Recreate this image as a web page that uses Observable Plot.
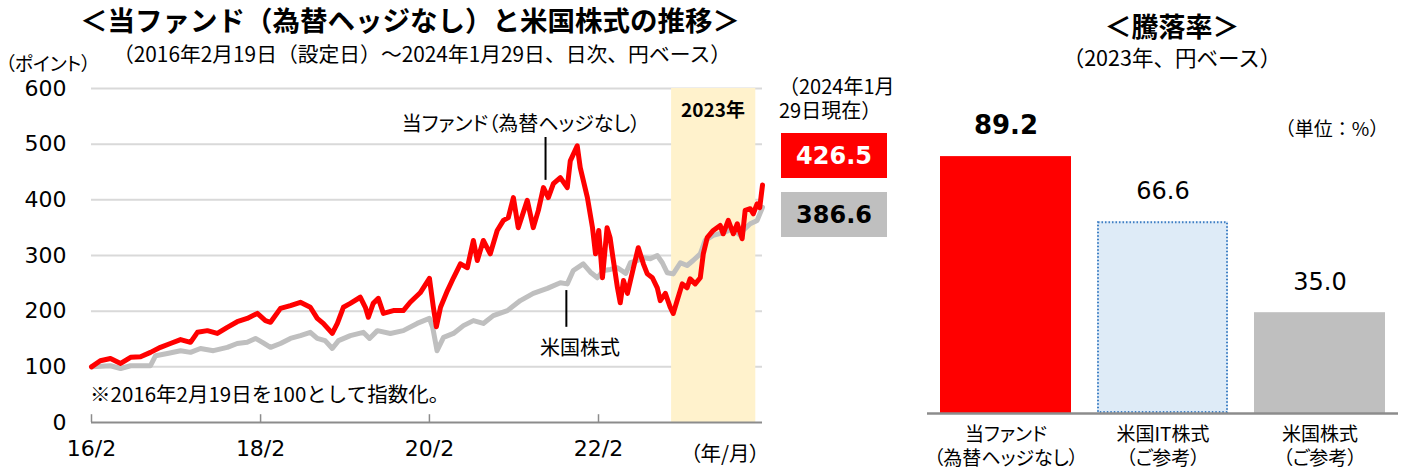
<!DOCTYPE html>
<html><head><meta charset="utf-8">
<script src="https://cdn.jsdelivr.net/npm/d3@7"></script>
<script src="https://cdn.jsdelivr.net/npm/@observablehq/plot@0.6"></script>
<style>
body{margin:0;background:#fff;}
#root{position:relative;width:1402px;height:470px;overflow:hidden;font-family:"Noto Sans CJK JP",sans-serif;color:#000;}
#left,#right{position:absolute;top:0;}
#left{left:0;} #right{left:900px;}
.t{position:absolute;white-space:pre;line-height:1;font-family:"Noto Sans CJK JP",sans-serif;}
.palt{font-feature-settings:"palt";}
.box{position:absolute;display:flex;align-items:center;justify-content:center;font-family:"DejaVu Sans",sans-serif;font-weight:bold;font-size:24px;}
svg text{font-feature-settings:"palt";}
</style></head><body>
<div id="root"><div id="left"></div><div id="right"></div></div>
<script>
// ---- Left chart data (index, 2016/2/19 = 100) ----
const fundDates = ["2016-02-19","2016-03-28","2016-05-11","2016-06-24","2016-08-06","2016-09-18","2016-10-31","2016-12-13","2017-01-25","2017-03-10","2017-04-22","2017-05-22","2017-07-04","2017-08-16","2017-09-28","2017-11-10","2017-12-23","2018-02-05","2018-03-12","2018-04-03","2018-05-16","2018-06-28","2018-08-10","2018-09-22","2018-10-22","2018-11-17","2018-12-26","2019-01-17","2019-02-12","2019-03-14","2019-04-26","2019-05-18","2019-05-31","2019-06-21","2019-07-13","2019-08-04","2019-09-16","2019-10-29","2019-11-28","2020-01-10","2020-02-19","2020-03-07","2020-03-20","2020-04-07","2020-05-07","2020-06-02","2020-07-02","2020-08-01","2020-08-27","2020-09-13","2020-10-09","2020-11-08","2020-12-08","2021-01-04","2021-01-25","2021-02-16","2021-03-09","2021-04-17","2021-05-13","2021-06-04","2021-06-26","2021-07-17","2021-08-08","2021-09-07","2021-10-07","2021-10-20","2021-11-19","2021-12-02","2022-01-02","2022-01-24","2022-02-06","2022-02-20","2022-03-08","2022-03-28","2022-04-10","2022-04-20","2022-05-12","2022-05-24","2022-06-07","2022-06-24","2022-07-20","2022-08-10","2022-09-01","2022-09-18","2022-10-10","2022-10-31","2022-11-13","2022-12-05","2022-12-26","2023-01-08","2023-01-25","2023-02-16","2023-03-09","2023-03-22","2023-04-13","2023-05-05","2023-05-18","2023-06-04","2023-06-30","2023-07-30","2023-08-12","2023-09-03","2023-09-25","2023-10-12","2023-11-02","2023-11-15","2023-12-07","2023-12-20","2024-01-06","2024-01-17","2024-01-29"];
const fundValues = [100,111,115,106,117,118,126,135,142,149,144,162,165,160,171,181,187,196,183,180,205,210,216,207,187,178,160,178,207,214,225,207,189,214,223,196,201,201,216,233,259,207,172,207,237,260,285,278,327,291,327,303,345,363,368,404,350,399,350,381,422,404,429,440,422,470,497,458,404,350,303,345,260,350,332,303,242,215,255,232,278,314,285,267,260,242,219,232,207,196,219,249,242,258,249,260,303,332,345,354,339,363,339,357,330,381,384,375,393,386,426.5];

const usDates = ["2016-02-19","2016-05-11","2016-06-24","2016-08-06","2016-10-31","2016-11-22","2017-01-12","2017-03-10","2017-04-22","2017-06-04","2017-07-30","2017-09-28","2017-11-10","2017-12-23","2018-01-28","2018-02-27","2018-04-03","2018-05-16","2018-06-28","2018-08-10","2018-09-22","2018-10-22","2018-11-25","2018-12-26","2019-01-22","2019-03-14","2019-05-09","2019-06-05","2019-07-09","2019-09-03","2019-10-29","2019-12-28","2020-02-19","2020-03-04","2020-03-23","2020-04-20","2020-06-02","2020-07-15","2020-08-27","2020-10-09","2020-11-21","2021-01-21","2021-03-18","2021-05-13","2021-07-13","2021-09-07","2021-10-07","2021-11-02","2021-12-15","2022-01-15","2022-02-14","2022-03-12","2022-04-11","2022-05-12","2022-06-17","2022-07-07","2022-08-06","2022-09-01","2022-10-01","2022-10-31","2022-11-22","2022-12-13","2023-01-08","2023-02-08","2023-03-09","2023-04-04","2023-05-05","2023-05-26","2023-06-30","2023-08-12","2023-09-25","2023-10-27","2023-11-06","2023-12-07","2024-01-06","2024-01-29"];
const usValues = [100,102,97,102,102,120,124,129,126,133,129,135,142,144,151,144,135,142,151,156,162,151,147,133,147,156,162,151,165,160,165,178,187,171,129,153,160,174,183,178,192,201,219,232,241,251,249,273,285,270,260,273,275,278,268,287,291,296,294,300,287,269,267,287,282,291,303,327,336,341,348,335,345,357,363,386.6];

const yTicks = [0,100,200,300,400,500,600];
const xTickDates = ["2016-02-19","2018-02-19","2020-02-19","2022-02-19"];
const highlightYear = ["2023-01-01","2023-12-31"];
const leaderDates = ["2021-07-05","2021-10-03"];
const leaderFrom = [435,171];
const leaderTo = [512,237];

// ---- Right chart data (2023 return, %) ----
const barCats = ["当ファンド","米国IT株式","米国株式"];
const barSubs = ["（為替ヘッジなし）","（ご参考）","（ご参考）"];
const barValues = [89.2,66.6,35.0];
const barFills = ["#ff0000","#deebf7","#bfbfbf"];

const P = d3.isoParse;
const fund = fundDates.map((d,i)=>({date:P(d), value:fundValues[i]}));
const us = usDates.map((d,i)=>({date:P(d), value:usValues[i]}));
const leaders = leaderDates.map((d,i)=>({date:P(d), y1:leaderFrom[i], y2:leaderTo[i]}));
const ticks = xTickDates.map(P);

const left = Plot.plot({
  width:900, height:470, marginLeft:91, marginRight:138, marginTop:88, marginBottom:48,
  style:{fontFamily:"DejaVu Sans, sans-serif", fontSize:"22px", color:"#000", background:"transparent"},
  x:{type:"utc", domain:[fund[0].date, fund[fund.length-1].date]},
  y:{domain:[0,600]},
  marks:[
    Plot.ruleY(yTicks.filter(v=>v>0), {stroke:"#d9d9d9", strokeWidth:2}),
    Plot.rect([{x1:P(highlightYear[0]), x2:P(highlightYear[1])}], {x1:"x1", x2:"x2", y1:0, y2:600, fill:"#fff2cc"}),
    Plot.ruleY([0], {stroke:"#8c8c8c", strokeWidth:2}),
    Plot.ruleX(ticks, {y1:0, y2:14, stroke:"#8c8c8c", strokeWidth:1.5}),
    Plot.line(us, {x:"date", y:"value", stroke:"#bfbfbf", strokeWidth:5, strokeLinejoin:"round"}),
    Plot.line(fund, {x:"date", y:"value", stroke:"#ff0000", strokeWidth:5, strokeLinejoin:"round"}),
    Plot.ruleX(leaders, {x:"date", y1:"y1", y2:"y2", stroke:"#000", strokeWidth:2}),
    Plot.axisY({ticks:yTicks, tickSize:0, tickPadding:25, fontSize:22, label:null}),
    Plot.axisX({ticks:ticks, tickSize:0, tickPadding:18, tickFormat:d3.utcFormat("%y/%-m"), fontSize:22, label:null})
  ]
});
document.getElementById("left").appendChild(left);

const bars = barCats.map((c,i)=>({cat:c, sub:barSubs[i], value:barValues[i], fill:barFills[i]}));
const right = Plot.plot({
  width:502, height:470, marginLeft:27, marginRight:4, marginTop:125, marginBottom:57,
  style:{fontFamily:"DejaVu Sans, sans-serif", color:"#000", background:"transparent"},
  x:{domain:barCats, paddingInner:0.166, paddingOuter:0.083, axis:null},
  y:{domain:[0,100], axis:null},
  color:{type:"identity"},
  marks:[
    Plot.barY(bars, {x:"cat", y:"value", fill:"fill"}),
    Plot.barY(bars.filter(d=>d.cat==="米国IT株式"), {x:"cat", y:"value", fill:"none", stroke:"#3f7fc4", strokeWidth:2, strokeDasharray:"1.5,2", inset:1}),
    Plot.ruleY([0], {stroke:"#8c8c8c", strokeWidth:2.5}),
    Plot.text(bars.slice(0,1), {x:"cat", y:"value", text:d=>d.value.toFixed(1), dy:-31, fontSize:26, fontWeight:"bold"}),
    Plot.text(bars.slice(1), {x:"cat", y:"value", text:d=>d.value.toFixed(1), dy:-30, fontSize:24}),
    Plot.text(bars, {x:"cat", y:d=>0, text:d=>d.cat+"\n"+d.sub, lineAnchor:"top", dy:10, lineHeight:1.27, fontSize:19, fontFamily:"Noto Sans CJK JP"})
  ]
});
document.getElementById("right").appendChild(right);

// ---- overlay texts ----
const root = document.getElementById("root");
function label(txt, o){
  const d = document.createElement("div");
  d.className = "t" + (o.palt ? " palt" : "");
  d.textContent = txt;
  d.style.left = o.x + "px";
  d.style.top = o.y + "px";
  d.style.fontSize = (o.size||19) + "px";
  if (o.lh) d.style.lineHeight = o.lh + "px";
  if (o.bold) d.style.fontWeight = "bold";
  d.style.transform = o.anchor==="start" ? "translate(0,-50%)" : "translate(-50%,-50%)";
  root.appendChild(d);
}
label("＜当ファンド（為替ヘッジなし）と米国株式の推移＞", {x:410, y:20, size:27.5, bold:true});
label("（2016年2月19日（設定日）～2024年1月29日、日次、円ベース）", {x:422, y:53, size:20.8});
label("（ポイント）", {x:48, y:62, size:19, palt:true});
label("当ファンド（為替ヘッジなし）", {x:521, y:123, size:20, palt:true});
label("米国株式", {x:580, y:347, size:20});
label("※2016年2月19日を100として指数化。", {x:90, y:393, size:20.5, anchor:"start"});
label("2023年", {x:713, y:108, size:19, bold:true});
label("（年/月）", {x:725, y:452, size:20.5, palt:true});
label("（2024年1月\n29日現在）", {x:779, y:98, size:20, lh:24, anchor:"start"});
label("＜騰落率＞", {x:1172, y:25, size:27, bold:true});
label("（2023年、円ベース）", {x:1172, y:57, size:21.5});
label("（単位：%）", {x:1332, y:127, size:19});

function box(val, top, bg, fg){
  const d = document.createElement("div");
  d.className = "box";
  d.textContent = val.toFixed(1);
  Object.assign(d.style, {left:"781px", top:top+"px", width:"106px", height:"45px", background:bg, color:fg});
  root.appendChild(d);
}
box(fundValues[fundValues.length-1], 133, "#ff0000", "#fff");
box(usValues[usValues.length-1], 192, "#bfbfbf", "#000");
</script></body></html>
